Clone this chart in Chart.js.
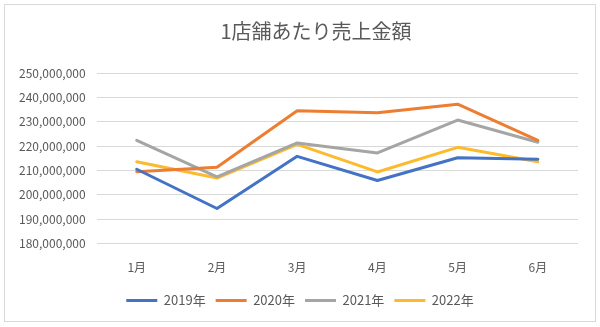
<!DOCTYPE html>
<html>
<head>
    <title>1店舗あたり売上金額</title>
    <script src="https://cdn.jsdelivr.net/npm/chart.js"></script>
    <style>
        body { margin: 0; background: #fff; }
        #box { position: absolute; left: 4px; top: 4px; width: 590px; height: 316px; border: 1px solid #d9d9d9; }
    </style>
</head>
<body>
    <div id="box"><canvas id="salesChart" width="590" height="316"></canvas></div>

    <script>
        const months = ['1月', '2月', '3月', '4月', '5月', '6月'];
        const sales2019 = [210500000, 194400000, 215800000, 205900000, 215200000, 214600000];
        const sales2020 = [209500000, 211300000, 234500000, 233700000, 237200000, 222400000];
        const sales2021 = [222400000, 207400000, 221300000, 217200000, 230700000, 221600000];
        const sales2022 = [213600000, 206900000, 220700000, 209400000, 219500000, 213600000];
        const yTicks = [180000000, 190000000, 200000000, 210000000, 220000000, 230000000, 240000000, 250000000];

        const textColor = '#595959';
        const font = "'Noto Sans CJK JP', 'Noto Sans', sans-serif";

        function line(label, data, color) {
            return {
                label: label,
                data: data,
                borderColor: color,
                backgroundColor: color,
                borderWidth: 3,
                borderCapStyle: 'round',
                borderJoinStyle: 'round',
                pointRadius: 0,
                tension: 0
            };
        }

        // title and legend sit where the original has them, not in the library's default spot
        const placePlugin = {
            id: 'place',
            afterLayout(chart) {
                chart.legend.left += 7;
                chart.legend.right += 7;
            },
            afterDraw(chart) {
                const c = chart.ctx;
                c.save();
                c.font = '20px ' + font;
                c.fillStyle = textColor;
                c.textAlign = 'center';
                c.textBaseline = 'middle';
                c.fillText('1店舗あたり売上金額', 311, 26);
                c.restore();
            }
        };

        const ctx = document.getElementById('salesChart').getContext('2d');
        new Chart(ctx, {
            type: 'line',
            data: {
                labels: months,
                datasets: [
                    line('2019年', sales2019, '#4472C4'),
                    line('2020年', sales2020, '#ED7D31'),
                    line('2021年', sales2021, '#A5A5A5'),
                    line('2022年', sales2022, '#FDBA2C')
                ]
            },
            options: {
                responsive: false,
                animation: false,
                layout: { padding: { top: 68, left: 3, right: 17, bottom: 4 } },
                plugins: {
                    title: { display: false },
                    tooltip: { enabled: false },
                    legend: {
                        position: 'bottom',
                        labels: {
                            usePointStyle: true,
                            pointStyle: 'line',
                            pointStyleWidth: 31,
                            padding: 10,
                            color: textColor,
                            font: { family: font, size: 13 }
                        }
                    }
                },
                scales: {
                    x: {
                        offset: true,
                        grid: { display: false },
                        border: { display: false },
                        ticks: { color: textColor, font: { family: font, size: 12 }, padding: 9 }
                    },
                    y: {
                        min: 180000000,
                        max: 250000000,
                        afterBuildTicks(axis) { axis.ticks = yTicks.map(v => ({ value: v })); },
                        grid: { color: '#d9d9d9', drawTicks: false },
                        border: { display: false },
                        ticks: {
                            color: textColor,
                            font: { family: font, size: 12 },
                            padding: 11,
                            callback: v => v.toLocaleString('en-US')
                        }
                    }
                }
            },
            plugins: [placePlugin]
        });
    </script>
</body>
</html>
